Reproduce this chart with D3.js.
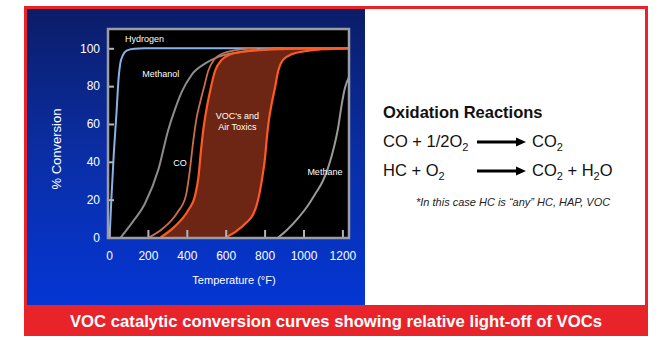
<!DOCTYPE html>
<html>
<head>
<meta charset="utf-8">
<script src="https://cdn.jsdelivr.net/npm/d3@7"></script>
<style>
  body { margin: 0; background: #fff; }
  svg { display: block; font-family: Arial, "Liberation Sans", sans-serif; }
</style>
</head>
<body>
<div id="chart"></div>
<script>
// curves: [temperature °F, % conversion]
const hydrogen = [[3,0],[12,20],[25,45],[38,65],[50,85],[58,92],[70,96],[90,98.8],[130,99.8],[180,100],[1240,100]];
const methanol = [[60,0],[120,8],[185,18],[254,36],[305,57],[340,68],[374,77],[425,86],[495,92],[562,95.5],[650,97.6],[760,99.2],[900,100]];
const co = [[205,0],[280,5],[350,13],[395,22],[415,35],[432,50],[450,63],[470,72],[490,80],[510,88],[540,94],[580,97],[650,99],[760,100]];
const vocLow = [[265,0],[340,6],[408,14.5],[442,22],[460,32],[472,45],[485,57],[500,67],[519,77],[545,88],[580,94],[622,96.7],[700,98.3],[800,99.2],[1000,99.8],[1240,100]];
const vocHigh = [[598,0],[650,3],[708,8],[740,12],[759,17],[775,24],[790,33],[802,42],[811,52],[822,62],[837,71],[853,79],[870,88],[896,94],[939,96.8],[1025,98.7],[1100,99.5],[1240,100]];
const methane = [[870,0],[920,4.5],[970,10],[1020,16.5],[1060,23],[1100,30],[1130,38],[1155,47],[1178,58],[1196,70],[1213,79],[1235,85]];

const xTicks = [0, 200, 400, 600, 800, 1000, 1200];
const yTicks = [0, 20, 40, 60, 80, 100];

// labels inside the plot: [text, temperature, conversion, anchor]
const curveLabels = [
  ["Hydrogen", 82, 105, "start"],
  ["Methanol", 171, 86.3, "start"],
  ["CO", 365, 39.6, "middle"],
  ["VOC's and", 660, 64.3, "middle"],
  ["Air Toxics", 660, 58.6, "middle"],
  ["Methane", 1110, 34.7, "middle"]
];

const W = 672, H = 340;
const plot = { left: 108, right: 349, top: 29, bottom: 238 };

const svg = d3.select("#chart").append("svg")
  .attr("width", W)
  .attr("height", H);

const defs = svg.append("defs");
const grad = defs.append("linearGradient")
  .attr("id", "bg").attr("x1", 0).attr("y1", 0).attr("x2", 0).attr("y2", 1);
grad.append("stop").attr("offset", "0%").attr("stop-color", "#0b1d68");
grad.append("stop").attr("offset", "50%").attr("stop-color", "#0a2ea6");
grad.append("stop").attr("offset", "100%").attr("stop-color", "#0436d4");

defs.append("clipPath").attr("id", "clip")
  .append("rect")
  .attr("x", plot.left).attr("y", plot.top)
  .attr("width", plot.right - plot.left).attr("height", plot.bottom - plot.top);

// frame: red border, blue panel, white panel, red caption band
svg.append("rect").attr("x", 24).attr("y", 6).attr("width", 624).attr("height", 330).attr("fill", "#e8232a");
svg.append("rect").attr("x", 27).attr("y", 9).attr("width", 338).attr("height", 296).attr("fill", "url(#bg)");
svg.append("rect").attr("x", 365).attr("y", 9).attr("width", 280).attr("height", 296).attr("fill", "#fff");

svg.append("text")
  .attr("x", 336).attr("y", 327)
  .attr("text-anchor", "middle")
  .attr("fill", "#fff")
  .attr("font-size", 17)
  .attr("font-weight", "bold")
  .attr("textLength", 532)
  .attr("lengthAdjust", "spacingAndGlyphs")
  .text("VOC catalytic conversion curves showing relative light-off of VOCs");

// scales
const x = d3.scaleLinear().domain([0, 1200]).range([109, 342.4]);
const y = d3.scaleLinear().domain([0, 100]).range([237.5, 48.3]);

svg.append("rect")
  .attr("x", plot.left).attr("y", plot.top)
  .attr("width", plot.right - plot.left).attr("height", plot.bottom - plot.top)
  .attr("fill", "#000");

const g = svg.append("g").attr("clip-path", "url(#clip)");

const line = d3.line()
  .x(d => x(d[0])).y(d => y(d[1]))
  .curve(d3.curveMonotoneX);

const areaUnder = d3.area()
  .x(d => x(d[0])).y0(y(0)).y1(d => y(d[1]))
  .curve(d3.curveMonotoneX);

// band between the two VOC curves: fill under the low one, then blank out under the high one
g.append("path").datum(vocLow).attr("d", areaUnder).attr("fill", "#6e2614");
g.append("path").datum(vocHigh).attr("d", areaUnder).attr("fill", "#000");

const series = [
  { data: hydrogen, color: "#86b4ea", w: 2 },
  { data: methanol, color: "#8c8c8c", w: 2 },
  { data: methane, color: "#9a9a9a", w: 2 },
  { data: co, color: "#c9704a", w: 1.8 },
  { data: vocHigh, color: "#ff5a24", w: 2.2 },
  { data: vocLow, color: "#ff5a24", w: 2.2 }
];

g.selectAll(".curve")
  .data(series)
  .enter().append("path")
  .attr("class", "curve")
  .attr("d", d => line(d.data))
  .attr("fill", "none")
  .attr("stroke", d => d.color)
  .attr("stroke-width", d => d.w);

g.selectAll(".clabel")
  .data(curveLabels)
  .enter().append("text")
  .attr("class", "clabel")
  .attr("x", d => x(d[1]))
  .attr("y", d => y(d[2]))
  .attr("dy", "0.35em")
  .attr("text-anchor", d => d[3])
  .attr("fill", "#fff")
  .attr("font-size", 9)
  .text(d => d[0]);

// axes
const yAxis = svg.append("g")
  .attr("transform", `translate(${plot.left},0)`)
  .call(d3.axisLeft(y).tickValues(yTicks).tickSize(-6).tickPadding(8));

const xAxis = svg.append("g")
  .attr("transform", `translate(0,${plot.bottom})`)
  .call(d3.axisBottom(x).tickValues(xTicks).tickFormat(d3.format("d")).tickSize(-8).tickPadding(13));

[yAxis, xAxis].forEach(a => {
  a.select(".domain").remove();
  a.selectAll(".tick line").attr("stroke", "#b4b4bc").attr("stroke-width", 2);
  a.selectAll(".tick text")
    .attr("fill", "#fff")
    .attr("font-size", 12)
    .attr("font-family", "Arial, 'Liberation Sans', sans-serif");
});

svg.append("rect")
  .attr("x", plot.left).attr("y", plot.top)
  .attr("width", plot.right - plot.left).attr("height", plot.bottom - plot.top)
  .attr("fill", "none")
  .attr("stroke", "#9c9ca4")
  .attr("stroke-width", 2.5);

svg.append("text")
  .attr("x", 234).attr("y", 284)
  .attr("text-anchor", "middle")
  .attr("fill", "#fff")
  .attr("font-size", 11)
  .text("Temperature (°F)");

svg.append("text")
  .attr("transform", "translate(61,149) rotate(-90)")
  .attr("text-anchor", "middle")
  .attr("fill", "#fff")
  .attr("font-size", 13)
  .text("% Conversion");

// right panel: reactions
svg.append("text")
  .attr("x", 383).attr("y", 118)
  .attr("font-size", 16.5)
  .attr("font-weight", "bold")
  .attr("fill", "#111")
  .text("Oxidation Reactions");

function chem(parent, xPos, yPos, parts) {
  const t = parent.append("text")
    .attr("x", xPos).attr("y", yPos)
    .attr("font-size", 16.5)
    .attr("fill", "#111");
  parts.forEach(p => {
    if (p[1]) {
      t.append("tspan").attr("font-size", 11).attr("dy", 4).text(p[0]);
    } else {
      t.append("tspan").attr("dy", p[2] ? -4 : 0).text(p[0]);
    }
  });
  return t;
}

chem(svg, 383, 147, [["CO + 1/2O"], ["2", true]]);
chem(svg, 532, 147, [["CO"], ["2", true]]);
chem(svg, 383, 176, [["HC + O"], ["2", true]]);
chem(svg, 532, 176, [["CO"], ["2", true], [" + H", false, true], ["2", true], ["O", false, true]]);

function arrow(yPos) {
  svg.append("line")
    .attr("x1", 477).attr("x2", 518)
    .attr("y1", yPos).attr("y2", yPos)
    .attr("stroke", "#000").attr("stroke-width", 3);
  svg.append("path")
    .attr("d", `M516,${yPos - 4.5}L526,${yPos}L516,${yPos + 4.5}Z`)
    .attr("fill", "#000");
}
arrow(142);
arrow(171);

svg.append("text")
  .attr("x", 416).attr("y", 205.5)
  .attr("font-size", 11)
  .attr("font-style", "italic")
  .attr("fill", "#222")
  .text("*In this case HC is \u201cany\u201d HC, HAP, VOC");
</script>
</body>
</html>
